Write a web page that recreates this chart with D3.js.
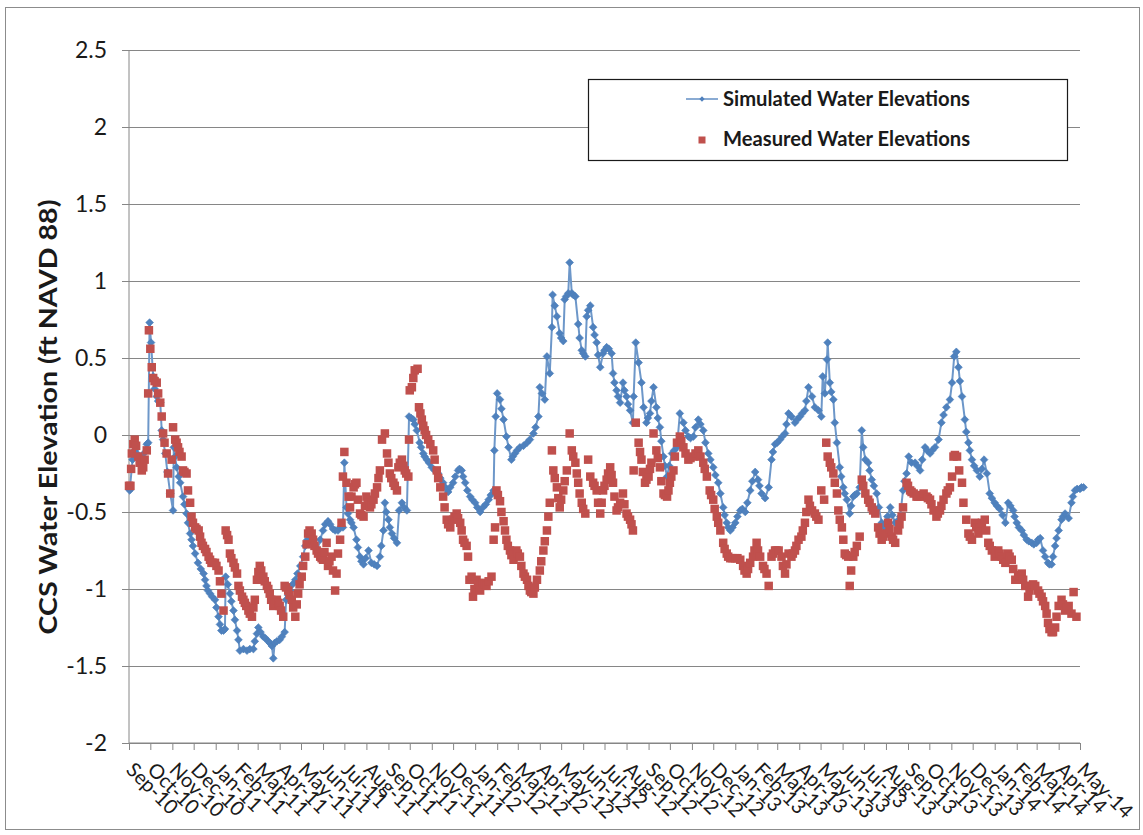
<!DOCTYPE html>
<html><head><meta charset="utf-8">
<script src="https://cdn.jsdelivr.net/npm/d3@7"></script>
<style>
body{margin:0;background:#fff}
svg text{font-family:Lato,"Open Sans",sans-serif;fill:#1a1a1a}
</style>
</head><body>
<svg id="chart" width="1143" height="835"></svg>
<script>
// ---------- data ----------
const startDate = new Date(2010, 8, 1);   // Sep 1 2010
const endDate = new Date(2014, 4, 1);     // May 1 2014
const monthLabels = ["Sep-10","Oct-10","Nov-10","Dec-10","Jan-11","Feb-11","Mar-11","Apr-11","May-11","Jun-11","Jul-11","Aug-11",
 "Sep-11","Oct-11","Nov-11","Dec-11","Jan-12","Feb-12","Mar-12","Apr-12","May-12","Jun-12","Jul-12","Aug-12",
 "Sep-12","Oct-12","Nov-12","Dec-12","Jan-13","Feb-13","Mar-13","Apr-13","May-13","Jun-13","Jul-13","Aug-13",
 "Sep-13","Oct-13","Nov-13","Dec-13","Jan-14","Feb-14","Mar-14","Apr-14","May-14"];
const yTickValues = [-2,-1.5,-1,-0.5,0,0.5,1,1.5,2,2.5];
const yTickLabels = ["-2","-1.5","-1","-0.5","0","0.5","1","1.5","2","2.5"];
const seriesNames = ["Simulated Water Elevations","Measured Water Elevations"];
const yTitle = "CCS Water Elevation (ft NAVD 88)";

// [days since Sep 1 2010, elevation ft]
const simulated = [[1,-0.36],[5,-0.16],[11,-0.12],[18,-0.15],[25,-0.06],[27,-0.05],[29,0.73],[31,0.60],[34,0.38],[39,0.25],[44,0.21],[46,0.03],[51,-0.12],[58,-0.38],[62,-0.49],[63,-0.08],[67,-0.21],[72,-0.31],[76,-0.40],[81,-0.51],[86,-0.64],[90,-0.72],[97,-0.83],[105,-0.90],[109,-0.98],[114,-1.03],[121,-1.07],[126,-1.18],[130,-1.27],[135,-1.26],[136,-0.92],[142,-1.03],[147,-1.14],[152,-1.27],[156,-1.40],[166,-1.40],[175,-1.39],[180,-1.29],[182,-1.25],[189,-1.31],[196,-1.34],[201,-1.37],[203,-1.45],[205,-1.35],[212,-1.33],[219,-1.28],[221,-1.07],[227,-1.01],[234,-0.94],[241,-0.85],[248,-0.72],[255,-0.64],[259,-0.70],[265,-0.75],[273,-0.62],[280,-0.56],[287,-0.61],[294,-0.62],[301,-0.60],[303,-0.18],[306,-0.47],[311,-0.55],[316,-0.60],[320,-0.68],[325,-0.79],[330,-0.84],[337,-0.75],[341,-0.83],[349,-0.85],[353,-0.79],[358,-0.62],[360,-0.44],[365,-0.55],[370,-0.64],[377,-0.70],[380,-0.49],[384,-0.44],[391,-0.49],[394,0.12],[400,0.10],[405,0.03],[409,-0.05],[414,-0.12],[419,-0.16],[426,-0.21],[435,-0.25],[442,-0.31],[449,-0.37],[456,-0.31],[463,-0.23],[468,-0.23],[473,-0.31],[480,-0.40],[487,-0.44],[494,-0.50],[498,-0.47],[506,-0.42],[513,-0.36],[514,-0.10],[516,0.12],[518,0.27],[522,0.23],[527,0.10],[531,-0.01],[538,-0.16],[543,-0.12],[550,-0.08],[560,-0.05],[569,0.01],[576,0.12],[578,0.31],[585,0.23],[588,0.51],[592,0.40],[595,0.70],[596,0.91],[602,0.77],[606,0.66],[611,0.61],[613,0.88],[618,0.92],[620,1.12],[623,0.92],[628,0.90],[632,0.72],[637,0.55],[642,0.51],[644,0.77],[649,0.84],[653,0.70],[658,0.60],[663,0.44],[667,0.53],[672,0.57],[679,0.53],[681,0.40],[686,0.29],[691,0.21],[695,0.34],[700,0.25],[705,0.16],[709,0.08],[710,0.25],[713,0.60],[717,0.47],[721,0.34],[724,0.18],[728,0.08],[733,0.14],[738,0.31],[742,0.18],[747,0.05],[752,-0.14],[757,-0.27],[764,-0.12],[771,-0.08],[775,0.14],[780,0.08],[787,-0.01],[794,-0.01],[801,0.10],[808,0.03],[815,-0.12],[822,-0.21],[829,-0.31],[836,-0.47],[841,-0.57],[846,-0.62],[853,-0.57],[860,-0.49],[867,-0.50],[874,-0.36],[881,-0.24],[885,-0.29],[890,-0.38],[895,-0.41],[900,-0.34],[904,-0.16],[909,-0.06],[916,-0.03],[923,0.01],[928,0.14],[932,0.12],[937,0.08],[944,0.12],[951,0.16],[956,0.31],[961,0.25],[965,0.18],[970,0.16],[974,0.12],[976,0.38],[979,0.27],[982,0.49],[983,0.60],[986,0.34],[991,0.23],[993,0.08],[996,-0.05],[1000,-0.21],[1005,-0.34],[1010,-0.42],[1014,-0.51],[1019,-0.40],[1024,-0.38],[1028,-0.34],[1031,0.03],[1036,-0.16],[1040,-0.18],[1045,-0.29],[1052,-0.38],[1059,-0.57],[1064,-0.60],[1071,-0.47],[1078,-0.57],[1085,-0.53],[1089,-0.36],[1094,-0.25],[1097,-0.14],[1101,-0.18],[1106,-0.18],[1113,-0.23],[1120,-0.08],[1127,-0.12],[1134,-0.08],[1139,-0.03],[1143,0.08],[1150,0.18],[1155,0.23],[1158,0.34],[1161,0.51],[1164,0.54],[1167,0.44],[1172,0.25],[1176,0.10],[1181,-0.05],[1186,-0.16],[1193,-0.23],[1197,-0.27],[1203,-0.16],[1207,-0.25],[1211,-0.38],[1218,-0.44],[1225,-0.48],[1233,-0.57],[1237,-0.44],[1244,-0.49],[1249,-0.57],[1256,-0.62],[1263,-0.68],[1270,-0.70],[1277,-0.70],[1282,-0.67],[1286,-0.75],[1293,-0.83],[1298,-0.84],[1303,-0.72],[1308,-0.62],[1312,-0.55],[1317,-0.51],[1322,-0.54],[1326,-0.44],[1331,-0.36],[1338,-0.35],[1343,-0.34]];
// further simulated readings taken between the ones above
const simulatedMore = [[8,-0.10],[14,-0.14],[21,-0.12],[36,0.30],[41,0.22],[48,-0.03],[54,-0.24],[65,-0.14],[70,-0.27],[78,-0.45],[83,-0.57],[88,-0.68],[93,-0.77],[101,-0.87],[107,-0.94],[111,-1.01],[117,-1.05],[123,-1.12],[128,-1.23],[133,-1.27],[139,-0.97],[144,-1.08],[149,-1.20],[154,-1.33],[161,-1.39],[170,-1.39],[177,-1.34],[185,-1.28],[192,-1.32],[198,-1.35],[208,-1.34],[215,-1.31],[224,-1.04],[230,-0.97],[237,-0.90],[245,-0.79],[251,-0.68],[262,-0.73],[269,-0.68],[276,-0.58],[283,-0.58],[290,-0.62],[297,-0.60],[308,-0.51],[313,-0.57],[322,-0.73],[327,-0.82],[333,-0.80],[345,-0.84],[355,-0.72],[362,-0.50],[367,-0.60],[373,-0.67],[387,-0.47],[397,0.11],[402,0.07],[411,-0.08],[416,-0.14],[422,-0.18],[430,-0.23],[438,-0.28],[445,-0.34],[452,-0.34],[459,-0.27],[465,-0.22],[470,-0.27],[476,-0.36],[483,-0.42],[490,-0.47],[502,-0.45],[509,-0.39],[524,0.17],[534,-0.08],[540,-0.14],[546,-0.10],[555,-0.07],[564,-0.03],[572,0.05],[581,0.27],[599,0.84],[608,0.63],[615,0.90],[625,0.91],[634,0.63],[639,0.53],[646,0.81],[655,0.65],[660,0.52],[669,0.55],[675,0.56],[683,0.34],[688,0.25],[697,0.29],[702,0.20],[730,0.11],[735,0.22],[744,0.11],[749,-0.04],[754,-0.20],[760,-0.20],[767,-0.10],[783,0.03],[790,-0.02],[797,0.05],[804,0.07],[811,-0.05],[818,-0.16],[825,-0.26],[832,-0.38],[838,-0.52],[843,-0.60],[849,-0.60],[856,-0.53],[863,-0.48],[870,-0.44],[877,-0.30],[887,-0.33],[906,-0.11],[912,-0.05],[919,-0.01],[925,0.07],[940,0.10],[947,0.14],[953,0.22],[988,0.28],[1002,-0.27],[1007,-0.38],[1016,-0.46],[1021,-0.39],[1033,-0.08],[1042,-0.23],[1048,-0.33],[1055,-0.47],[1061,-0.59],[1067,-0.53],[1074,-0.52],[1081,-0.56],[1091,-0.30],[1109,-0.20],[1116,-0.16],[1123,-0.10],[1130,-0.10],[1146,0.13],[1169,0.35],[1178,0.02],[1183,-0.10],[1189,-0.20],[1200,-0.22],[1214,-0.41],[1221,-0.46],[1229,-0.52],[1240,-0.46],[1246,-0.53],[1252,-0.60],[1259,-0.65],[1266,-0.69],[1273,-0.71],[1279,-0.68],[1289,-0.79],[1295,-0.84],[1300,-0.79],[1305,-0.67],[1314,-0.53],[1328,-0.40],[1334,-0.35],[1340,-0.34]];

const measured = [[0,-0.33],[2,-0.33],[4,-0.12],[8,-0.03],[13,-0.14],[18,-0.23],[22,-0.16],[25,-0.10],[27,0.27],[28,0.68],[30,0.56],[32,0.44],[34,0.37],[39,0.34],[41,0.27],[44,0.21],[46,0.12],[48,0.01],[53,-0.12],[55,-0.25],[58,-0.38],[60,-0.16],[62,0.05],[65,-0.03],[69,-0.08],[74,-0.14],[76,-0.23],[81,-0.25],[83,-0.36],[86,-0.44],[88,-0.53],[93,-0.60],[98,-0.62],[102,-0.70],[107,-0.74],[112,-0.79],[116,-0.83],[121,-0.83],[126,-0.88],[130,-1.03],[133,-1.14],[136,-0.62],[140,-0.68],[142,-0.77],[147,-0.83],[152,-0.90],[154,-0.98],[159,-1.05],[163,-1.09],[168,-1.14],[173,-1.18],[177,-1.07],[180,-0.94],[184,-0.85],[189,-0.92],[194,-0.98],[198,-1.03],[203,-1.11],[208,-1.07],[212,-1.11],[217,-1.18],[219,-0.98],[224,-1.01],[229,-1.07],[234,-1.18],[238,-1.03],[243,-0.92],[248,-0.79],[252,-0.64],[257,-0.64],[259,-0.68],[264,-0.75],[269,-0.79],[273,-0.81],[278,-0.70],[280,-0.85],[285,-0.79],[287,-0.88],[290,-1.01],[292,-0.90],[294,-0.77],[297,-0.68],[299,-0.57],[301,-0.27],[303,-0.11],[306,-0.31],[309,-0.40],[311,-0.47],[316,-0.34],[320,-0.31],[325,-0.51],[330,-0.53],[334,-0.40],[339,-0.47],[344,-0.42],[349,-0.34],[353,-0.23],[356,-0.03],[360,0.01],[363,-0.12],[367,-0.25],[372,-0.31],[377,-0.36],[379,-0.21],[384,-0.16],[388,-0.23],[393,-0.27],[394,-0.03],[395,0.29],[398,0.31],[402,0.42],[406,0.43],[408,0.18],[412,0.10],[416,0.03],[421,-0.03],[428,-0.10],[433,-0.23],[438,-0.34],[442,-0.40],[447,-0.55],[452,-0.60],[456,-0.55],[461,-0.51],[466,-0.57],[470,-0.68],[475,-0.72],[477,-0.79],[479,-0.94],[482,-0.92],[484,-1.05],[489,-0.94],[494,-1.01],[498,-0.96],[503,-0.98],[510,-0.92],[513,-0.68],[515,-0.60],[517,-0.36],[522,-0.43],[527,-0.56],[531,-0.68],[536,-0.75],[541,-0.81],[545,-0.75],[550,-0.79],[555,-0.90],[560,-0.94],[564,-1.01],[569,-1.03],[574,-0.94],[578,-0.88],[583,-0.75],[588,-0.62],[592,-0.44],[595,-0.10],[597,-0.23],[602,-0.34],[606,-0.47],[611,-0.36],[616,-0.23],[620,0.01],[623,-0.10],[628,-0.18],[632,-0.31],[637,-0.44],[642,-0.51],[646,-0.16],[649,-0.27],[653,-0.31],[658,-0.36],[663,-0.51],[667,-0.36],[672,-0.29],[677,-0.21],[681,-0.31],[686,-0.49],[691,-0.44],[695,-0.38],[700,-0.51],[705,-0.55],[709,-0.62],[710,-0.23],[713,0.08],[717,-0.05],[721,-0.16],[726,-0.31],[731,-0.27],[735,-0.18],[738,0.01],[742,-0.10],[747,-0.21],[752,-0.38],[757,-0.40],[761,-0.31],[766,-0.23],[771,-0.05],[775,-0.01],[780,-0.08],[787,-0.16],[794,-0.14],[801,-0.10],[808,-0.18],[813,-0.27],[817,-0.36],[822,-0.42],[827,-0.53],[832,-0.62],[836,-0.70],[841,-0.77],[846,-0.80],[853,-0.80],[860,-0.81],[864,-0.85],[869,-0.90],[874,-0.83],[878,-0.79],[883,-0.70],[888,-0.79],[892,-0.85],[897,-0.90],[900,-0.98],[904,-0.79],[909,-0.75],[914,-0.75],[918,-0.79],[923,-0.90],[928,-0.77],[932,-0.79],[937,-0.75],[942,-0.68],[946,-0.66],[951,-0.57],[956,-0.42],[961,-0.49],[965,-0.51],[970,-0.55],[974,-0.36],[978,-0.42],[981,-0.05],[983,-0.14],[986,-0.18],[991,-0.25],[996,-0.38],[998,-0.49],[1003,-0.60],[1005,-0.68],[1007,-0.77],[1012,-0.79],[1014,-0.98],[1019,-0.79],[1024,-0.72],[1028,-0.66],[1031,-0.29],[1036,-0.38],[1040,-0.42],[1045,-0.47],[1050,-0.51],[1054,-0.60],[1059,-0.68],[1064,-0.64],[1068,-0.57],[1073,-0.66],[1078,-0.70],[1082,-0.62],[1087,-0.53],[1089,-0.47],[1094,-0.31],[1099,-0.36],[1104,-0.38],[1108,-0.40],[1113,-0.40],[1118,-0.38],[1122,-0.40],[1127,-0.42],[1132,-0.49],[1136,-0.53],[1141,-0.49],[1146,-0.42],[1150,-0.38],[1155,-0.34],[1158,-0.27],[1160,-0.14],[1165,-0.14],[1168,-0.23],[1172,-0.31],[1174,-0.44],[1178,-0.55],[1181,-0.64],[1186,-0.68],[1190,-0.57],[1195,-0.64],[1200,-0.57],[1204,-0.55],[1209,-0.70],[1214,-0.75],[1218,-0.79],[1223,-0.75],[1228,-0.79],[1233,-0.83],[1237,-0.77],[1242,-0.81],[1247,-0.94],[1251,-0.92],[1256,-0.90],[1261,-0.98],[1265,-1.05],[1270,-0.98],[1275,-0.98],[1279,-1.01],[1284,-1.05],[1289,-1.11],[1293,-1.22],[1298,-1.28],[1303,-1.25],[1308,-1.11],[1312,-1.07],[1317,-1.14],[1322,-1.11],[1326,-1.16],[1329,-1.02],[1333,-1.18]];
// further measured readings taken between the ones above
const measuredMore = [[3,-0.22],[6,-0.06],[10,-0.07],[15,-0.18],[20,-0.21],[36,0.35],[50,-0.05],[67,-0.05],[71,-0.11],[78,-0.24],[90,-0.57],[95,-0.61],[100,-0.66],[104,-0.72],[109,-0.76],[114,-0.81],[118,-0.83],[123,-0.85],[128,-0.95],[138,-0.65],[144,-0.80],[149,-0.86],[156,-1.01],[161,-1.07],[165,-1.11],[170,-1.16],[175,-1.12],[182,-0.89],[186,-0.88],[191,-0.95],[196,-1.00],[200,-1.07],[205,-1.09],[210,-1.09],[214,-1.14],[221,-0.99],[226,-1.04],[231,-1.12],[236,-1.10],[240,-0.97],[245,-0.85],[250,-0.71],[254,-0.62],[261,-0.72],[266,-0.77],[271,-0.80],[275,-0.76],[282,-0.82],[313,-0.40],[318,-0.32],[322,-0.42],[327,-0.52],[332,-0.46],[336,-0.44],[341,-0.45],[346,-0.38],[351,-0.28],[365,-0.18],[369,-0.28],[374,-0.33],[381,-0.18],[386,-0.20],[390,-0.25],[400,0.37],[410,0.14],[414,0.06],[418,0.00],[424,-0.06],[430,-0.16],[435,-0.28],[444,-0.47],[449,-0.58],[458,-0.53],[463,-0.54],[468,-0.62],[472,-0.70],[486,-1.00],[491,-0.97],[500,-0.97],[506,-0.95],[519,-0.39],[524,-0.50],[529,-0.62],[533,-0.72],[538,-0.78],[547,-0.77],[552,-0.85],[557,-0.92],[562,-0.98],[566,-1.02],[571,-0.99],[580,-0.82],[585,-0.69],[590,-0.53],[599,-0.28],[604,-0.41],[608,-0.42],[613,-0.30],[625,-0.14],[630,-0.25],[634,-0.38],[639,-0.48],[655,-0.33],[660,-0.44],[665,-0.44],[669,-0.33],[674,-0.25],[679,-0.26],[683,-0.40],[688,-0.47],[697,-0.45],[702,-0.53],[707,-0.58],[719,-0.11],[723,-0.24],[728,-0.29],[733,-0.22],[744,-0.15],[749,-0.30],[754,-0.39],[759,-0.36],[763,-0.27],[768,-0.14],[777,-0.04],[783,-0.12],[790,-0.15],[797,-0.12],[804,-0.14],[810,-0.22],[819,-0.39],[824,-0.48],[829,-0.57],[838,-0.74],[843,-0.79],[849,-0.80],[856,-0.80],[866,-0.88],[871,-0.87],[880,-0.75],[885,-0.75],[894,-0.87],[906,-0.77],[911,-0.75],[920,-0.85],[925,-0.84],[934,-0.77],[939,-0.72],[948,-0.62],[953,-0.50],[958,-0.46],[967,-0.53],[988,-0.21],[993,-0.31],[1000,-0.55],[1009,-0.78],[1016,-0.88],[1021,-0.76],[1033,-0.33],[1042,-0.44],[1047,-0.49],[1056,-0.64],[1061,-0.66],[1070,-0.61],[1075,-0.68],[1084,-0.58],[1096,-0.33],[1101,-0.37],[1110,-0.40],[1115,-0.39],[1124,-0.41],[1129,-0.45],[1138,-0.51],[1143,-0.46],[1152,-0.36],[1162,-0.13],[1183,-0.66],[1192,-0.60],[1197,-0.61],[1206,-0.62],[1211,-0.72],[1220,-0.77],[1225,-0.77],[1230,-0.81],[1239,-0.79],[1244,-0.87],[1253,-0.91],[1258,-0.94],[1267,-1.01],[1272,-0.97],[1281,-1.03],[1286,-1.08],[1291,-1.16],[1295,-1.26],[1300,-1.28],[1305,-1.18],[1314,-1.10],[1319,-1.12]];

// ---------- drawing ----------
const simAll = simulated.concat(simulatedMore).sort((a,b)=>a[0]-b[0]);
const measAll = measured.concat(measuredMore).sort((a,b)=>a[0]-b[0]);

const svg = d3.select("#chart");
const plot = {left:129, right:1080, top:50, bottom:743};
const BLUE = "#4F81BD", BLUE_LINE = "#6d97c9", RED = "#C0504D", GRID = "#868686";

svg.append("rect").attr("x",5.5).attr("y",7.5).attr("width",1134).attr("height",822)
  .attr("fill","#fff").attr("stroke","#8c8c8c").attr("stroke-width",1);

const x = d3.scaleTime().domain([startDate,endDate]).range([plot.left,plot.right]);
const y = d3.scaleLinear().domain([-2,2.5]).range([plot.bottom,plot.top]);
const toDate = d => d3.timeDay.offset(startDate, d);

// gridlines + y axis
const yAxis = d3.axisLeft(y).tickValues(yTickValues).tickSize(7).tickPadding(15)
  .tickFormat((d,i)=>yTickLabels[i]);
const gy = svg.append("g").attr("transform",`translate(${plot.left},0)`).call(yAxis);
gy.select(".domain").attr("stroke",GRID).attr("d",`M0,${plot.top}V${plot.bottom}`);
gy.selectAll(".tick line").attr("stroke",GRID);
gy.selectAll(".tick text").attr("font-size",23).attr("fill","#1a1a1a").style("font-family","Lato, sans-serif");
gy.selectAll(".tick").append("line").attr("x1",0).attr("x2",plot.right-plot.left)
  .attr("stroke",GRID).attr("stroke-width",1.2);

// x axis
const monthTicks = d3.timeMonth.range(startDate, d3.timeDay.offset(endDate,1));
const xAxis = d3.axisBottom(x).tickValues(monthTicks).tickSize(7).tickFormat("");
const gx = svg.append("g").attr("transform",`translate(0,${plot.bottom})`).call(xAxis);
gx.select(".domain").attr("stroke",GRID).attr("stroke-width",1.2).attr("d",`M${plot.left},0H${plot.right}`);
gx.selectAll(".tick line").attr("stroke",GRID);
svg.append("g").selectAll("text").data(monthTicks).join("text")
  .attr("transform",d=>`translate(${x(d)-4},${771}) rotate(45)`)
  .attr("font-size",20)
  .text((d,i)=>monthLabels[i]);

// y title
svg.append("text").attr("transform",`translate(57,${417}) rotate(-90)`)
  .attr("text-anchor","middle").attr("font-size",25).attr("font-weight","bold")
  .attr("textLength",435).attr("lengthAdjust","spacingAndGlyphs")
  .text(yTitle);

// simulated line + diamonds
const line = d3.line().x(d=>x(toDate(d[0]))).y(d=>y(d[1]));
svg.append("path").datum(simAll).attr("d",line).attr("fill","none")
  .attr("stroke",BLUE_LINE).attr("stroke-width",2);
const diamond = d3.symbol(d3.symbolSquare, 30);
svg.append("g").selectAll("path").data(simAll).join("path")
  .attr("d",diamond)
  .attr("transform",d=>`translate(${x(toDate(d[0]))},${y(d[1])}) rotate(45)`)
  .attr("fill",BLUE).attr("stroke","#4A7EBB").attr("stroke-width",0.6);

// measured squares
const sq = 8.5;
svg.append("g").selectAll("rect").data(measAll).join("rect")
  .attr("x",d=>x(toDate(d[0]))-sq/2).attr("y",d=>y(d[1])-sq/2)
  .attr("width",sq).attr("height",sq).attr("fill",RED);

// legend
const lg = svg.append("g");
lg.append("rect").attr("x",588.5).attr("y",79.5).attr("width",479).attr("height",81)
  .attr("fill","#fff").attr("stroke","#1a1a1a").attr("stroke-width",1.2);
lg.append("line").attr("x1",686).attr("x2",718).attr("y1",99).attr("y2",99)
  .attr("stroke",BLUE_LINE).attr("stroke-width",1.6);
lg.append("path").attr("d",d3.symbol(d3.symbolSquare,14)).attr("transform","translate(702,99) rotate(45)")
  .attr("fill",BLUE);
lg.append("rect").attr("x",698.5).attr("y",136.5).attr("width",7).attr("height",7).attr("fill",RED);
lg.append("text").attr("x",723).attr("y",106).attr("font-size",21).attr("font-weight","bold")
  .attr("textLength",247).attr("lengthAdjust","spacingAndGlyphs").text(seriesNames[0]);
lg.append("text").attr("x",723).attr("y",146).attr("font-size",21).attr("font-weight","bold")
  .attr("textLength",247).attr("lengthAdjust","spacingAndGlyphs").text(seriesNames[1]);
</script>
</body></html>
